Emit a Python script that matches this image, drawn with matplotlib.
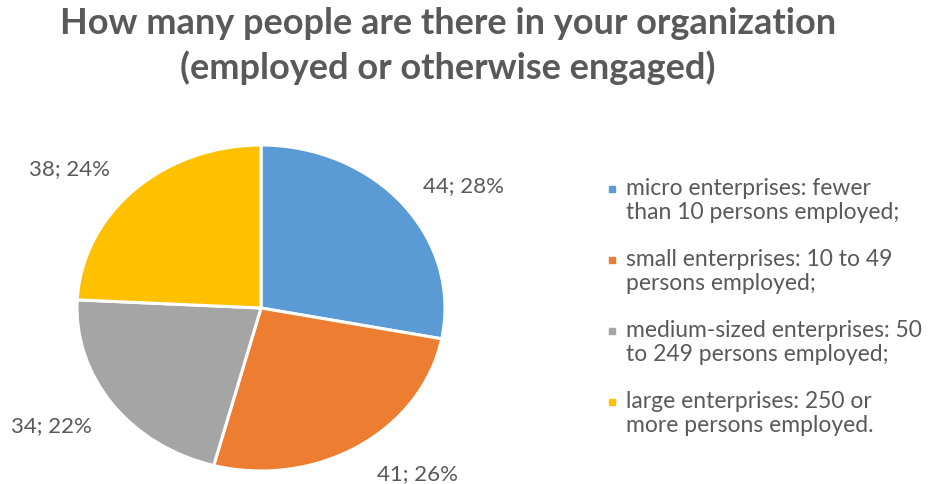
import matplotlib
matplotlib.use("Agg")
import matplotlib.pyplot as plt
from matplotlib.lines import Line2D

# organisation size survey
categories = [
    "micro enterprises: fewer\nthan 10 persons employed;",
    "small enterprises: 10 to 49\npersons employed;",
    "medium-sized enterprises: 50\nto 249 persons employed;",
    "large enterprises: 250 or\nmore persons employed.",
]
counts = [44, 41, 34, 38]
percent_labels = ["28%", "26%", "22%", "24%"]
colors = ["#5B9BD5", "#ED7D31", "#A5A5A5", "#FFC000"]

TEXT = "#595959"
plt.rcParams["font.family"] = ["Lato", "DejaVu Sans"]

fig = plt.figure(figsize=(9.43, 4.85), dpi=100)
W, H = 943, 485

# pie axes, slightly stretched horizontally
ax = fig.add_axes([77 / W, (H - 472) / H, (445 - 77) / W, (472 - 146) / H])
wedges, _ = ax.pie(counts, colors=colors, startangle=90, counterclock=False,
                   wedgeprops=dict(edgecolor="white", linewidth=2.2))
ax.set_aspect("auto")
ax.set_xlim(-1, 1)
ax.set_ylim(-1, 1)
ax.axis("off")

# data labels sit outside each slice
label_pos = [(1.10, 0.755), (0.85, -1.01), (-1.14, -0.72), (-1.04, 0.86)]
for n, pct, (x, y) in zip(counts, percent_labels, label_pos):
    ax.text(x, y, "{}; {}".format(n, pct), ha="center", va="center",
            fontsize=16, color=TEXT, clip_on=False)

fig.text(0.475, 0.952, "How many people are there in your organization",
         ha="center", va="center", fontsize=26, fontweight="bold", color=TEXT)
fig.text(0.475, 0.860, "(employed or otherwise engaged)",
         ha="center", va="center", fontsize=26, fontweight="bold", color=TEXT)

# legend: square marker next to the first line of each entry
top, pitch = 190, 71
for i, (label, c) in enumerate(zip(categories, colors)):
    y = 1 - (top + i * pitch) / H
    fig.add_artist(Line2D([612 / W], [y], transform=fig.transFigure,
                          marker="s", markersize=5, linestyle="none",
                          markerfacecolor=c, markeredgecolor=c))
    fig.text(626 / W, y + 12 / H, label, ha="left", va="top", fontsize=16.5,
             color=TEXT, linespacing=1.15)

fig.savefig("out.png", dpi=100, facecolor="white")
